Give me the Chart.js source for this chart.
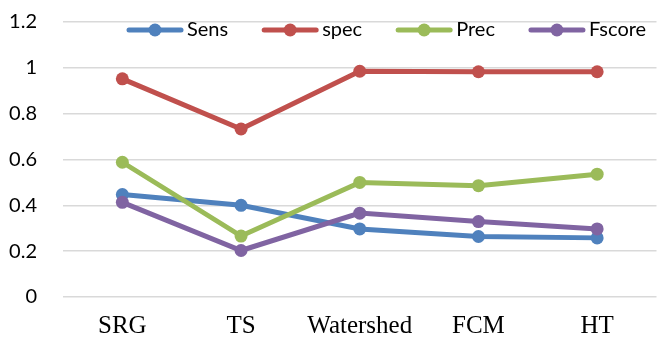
<!DOCTYPE html>
<html>
<head>
<meta charset="utf-8">
<script src="https://cdn.jsdelivr.net/npm/chart.js@4"></script>
<style>
  html, body { margin: 0; padding: 0; background: #fff; overflow: hidden; }
  #wrap { width: 663px; height: 345px; }
</style>
</head>
<body>
<div id="wrap"><canvas id="chart"></canvas></div>
<script>
const methods = ['SRG', 'TS', 'Watershed', 'FCM', 'HT'];
const sens = [0.447, 0.40, 0.297, 0.264, 0.258];
const spec = [0.952, 0.733, 0.985, 0.983, 0.983];
const prec = [0.588, 0.266, 0.50, 0.486, 0.536];
const fscore = [0.413, 0.203, 0.366, 0.329, 0.297];
const yTicks = ['0', '0.2', '0.4', '0.6', '0.8', '1', '1.2'];

const seriesNames = ['Sens', 'spec', 'Prec', 'Fscore'];
const seriesColors = ['#4F81BD', '#C0504D', '#9BBB59', '#8064A2'];
const allData = [sens, spec, prec, fscore];

// excel style legend that sits over the top of the plot
const overlayLegend = {
    id: 'overlayLegend',
    afterDraw(chart) {
        const ctx = chart.ctx;
        const area = chart.chartArea;
        let x = area.left + 64;
        const y = 30;
        ctx.save();
        ctx.font = '20px Lato';
        ctx.textBaseline = 'middle';
        chart.data.datasets.forEach((ds, i) => {
            const color = ds.borderColor;
            ctx.strokeStyle = color;
            ctx.lineWidth = 5;
            ctx.lineCap = 'round';
            ctx.beginPath();
            ctx.moveTo(x + 2, y);
            ctx.lineTo(x + 54, y);
            ctx.stroke();
            ctx.fillStyle = color;
            ctx.beginPath();
            ctx.arc(x + 28, y, 6.5, 0, Math.PI * 2);
            ctx.fill();
            ctx.fillStyle = '#000';
            ctx.fillText(ds.label, x + 60, y);
            x += 60 + ctx.measureText(ds.label).width + 34;
        });
        ctx.restore();
    }
};

new Chart(document.getElementById('chart').getContext('2d'), {
    type: 'line',
    data: {
        labels: methods,
        datasets: allData.map((d, i) => ({
            label: seriesNames[i],
            data: d,
            borderColor: seriesColors[i],
            backgroundColor: seriesColors[i],
            borderWidth: 5,
            pointRadius: 6.5,
            pointHoverRadius: 6.5,
            pointBorderWidth: 0,
            order: 4 - i
        }))
    },
    options: {
        responsive: true,
        maintainAspectRatio: false,
        animation: false,
        layout: { padding: { top: 22, bottom: 6, left: 0, right: 0 } },
        plugins: {
            tooltip: { enabled: false },
            legend: { display: false }
        },
        scales: {
            x: {
                offset: true,
                afterFit: scale => { scale.height = 42; },
                grid: { display: false, drawTicks: false },
                border: { display: false },
                ticks: {
                    color: '#000',
                    padding: 14,
                    font: { family: 'Liberation Serif', size: 25 }
                }
            },
            y: {
                min: 0,
                max: 1.2,
                afterFit: scale => {
                    scale.width = 63;
                    scale.paddingTop = 0;
                    scale.paddingBottom = 0;
                },
                grid: { color: '#d9d9d9', lineWidth: 1.5, drawTicks: false },
                border: { display: false },
                ticks: {
                    stepSize: 0.2,
                    padding: 26,
                    color: '#000',
                    font: { family: 'Lato', size: 20 },
                    callback: (v, i) => yTicks[i]
                }
            }
        }
    },
    plugins: [overlayLegend]
});
</script>
</body>
</html>
